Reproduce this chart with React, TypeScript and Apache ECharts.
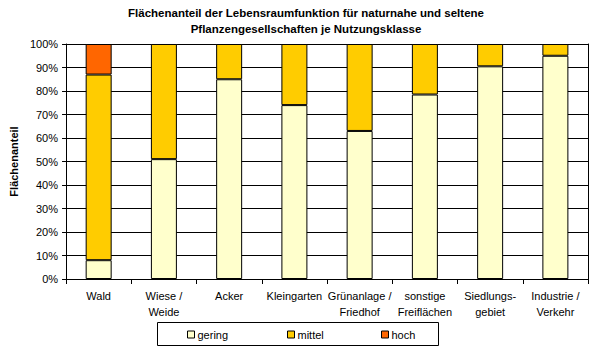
import React, { useEffect, useRef } from "react";
import * as echarts from "echarts";

// Nutzungsklassen (x-axis categories)
const categories = [
  "Wald",
  "Wiese /\nWeide",
  "Acker",
  "Kleingarten",
  "Grünanlage /\nFriedhof",
  "sonstige\nFreiflächen",
  "Siedlungs-\ngebiet",
  "Industrie /\nVerkehr",
];

// Flächenanteil in % per Lebensraumfunktion class
const gering = [8, 51, 85, 74, 63, 78.5, 90.5, 95];
const mittel = [79, 49, 15, 26, 37, 21.5, 9.5, 5];
const hoch = [13, 0, 0, 0, 0, 0, 0, 0];

const yTicks = [0, 10, 20, 30, 40, 50, 60, 70, 80, 90, 100];

const FONT = "Liberation Sans, Arial, sans-serif";

export default function App() {
  const ref = useRef<HTMLDivElement>(null);

  useEffect(() => {
    if (!ref.current) return;
    const chart = echarts.init(ref.current, null, { renderer: "svg" });

    const barStyle = (color: string) => ({
      color,
      borderColor: "#000",
      borderWidth: 1,
    });

    const legendItem = (name: string, left: number) => ({
      show: true,
      data: [name],
      left,
      top: 329,
      itemWidth: 7,
      itemHeight: 7,
      itemGap: 0,
      padding: 0,
      icon: "rect",
      selectedMode: false,
      itemStyle: { borderColor: "#000", borderWidth: 1 },
      textStyle: { fontFamily: FONT, fontSize: 11, color: "#000", padding: [0, 0, 0, -2] },
    });

    chart.setOption({
      animation: false,
      backgroundColor: "#fff",
      textStyle: { fontFamily: FONT },
      graphic: [
        {
          type: "text",
          x: 306,
          y: 5,
          style: {
            text: "Flächenanteil der Lebensraumfunktion für naturnahe und seltene\nPflanzengesellschaften je Nutzungsklasse",
            font: `bold 11.5px ${FONT}`,
            fill: "#000",
            textAlign: "center",
            lineHeight: 16,
          },
        },
        {
          type: "rect",
          shape: { x: 157.5, y: 322.5, width: 281, height: 23 },
          style: { fill: "none", stroke: "#000", lineWidth: 1 },
        },
      ],
      legend: [
        legendItem("gering", 187),
        legendItem("mittel", 287),
        legendItem("hoch", 381),
      ],
      grid: { left: 52, right: 7, top: 44, bottom: 71 },
      xAxis: {
        type: "category",
        data: categories,
        boundaryGap: true,
        axisLine: { show: true, lineStyle: { color: "#000", width: 1 } },
        axisTick: {
          show: true,
          alignWithLabel: false,
          length: 5,
          lineStyle: { color: "#000" },
        },
        axisLabel: {
          interval: 0,
          color: "#000",
          fontFamily: FONT,
          fontSize: 11,
          lineHeight: 16,
          margin: 9,
        },
      },
      yAxis: [
        {
          type: "value",
          min: 0,
          max: 100,
          interval: 10,
          name: "Flächenanteil",
          nameLocation: "middle",
          nameGap: 37,
          nameRotate: 90,
          nameTextStyle: {
            fontFamily: FONT,
            fontSize: 11,
            fontWeight: "bold",
            color: "#000",
          },
          axisLine: { show: true, lineStyle: { color: "#000", width: 1 } },
          axisTick: { show: true, length: 4, lineStyle: { color: "#000" } },
          axisLabel: {
            color: "#000",
            fontFamily: FONT,
            fontSize: 11,
            margin: 8,
            formatter: (v: number) => (yTicks.includes(v) ? `${v}%` : ""),
          },
          splitLine: { show: true, lineStyle: { color: "#000", width: 1 } },
        },
        {
          type: "value",
          position: "right",
          min: 0,
          max: 100,
          interval: 10,
          axisLine: { show: true, lineStyle: { color: "#000", width: 1 } },
          axisTick: { show: false },
          axisLabel: { show: false },
          splitLine: { show: false },
        },
      ],
      series: [
        {
          name: "gering",
          type: "bar",
          stack: "total",
          barWidth: 26,
          data: gering,
          itemStyle: barStyle("#FFFFCC"),
        },
        {
          name: "mittel",
          type: "bar",
          stack: "total",
          barWidth: 26,
          data: mittel,
          itemStyle: barStyle("#FFCC00"),
        },
        {
          name: "hoch",
          type: "bar",
          stack: "total",
          barWidth: 26,
          data: hoch.map((v) => (v === 0 ? null : v)),
          itemStyle: barStyle("#FF6600"),
        },
      ],
    });

    return () => chart.dispose();
  }, []);

  return (
    <div
      ref={ref}
      style={{ position: "absolute", left: 0, top: 0, width: 595, height: 350 }}
    />
  );
}
